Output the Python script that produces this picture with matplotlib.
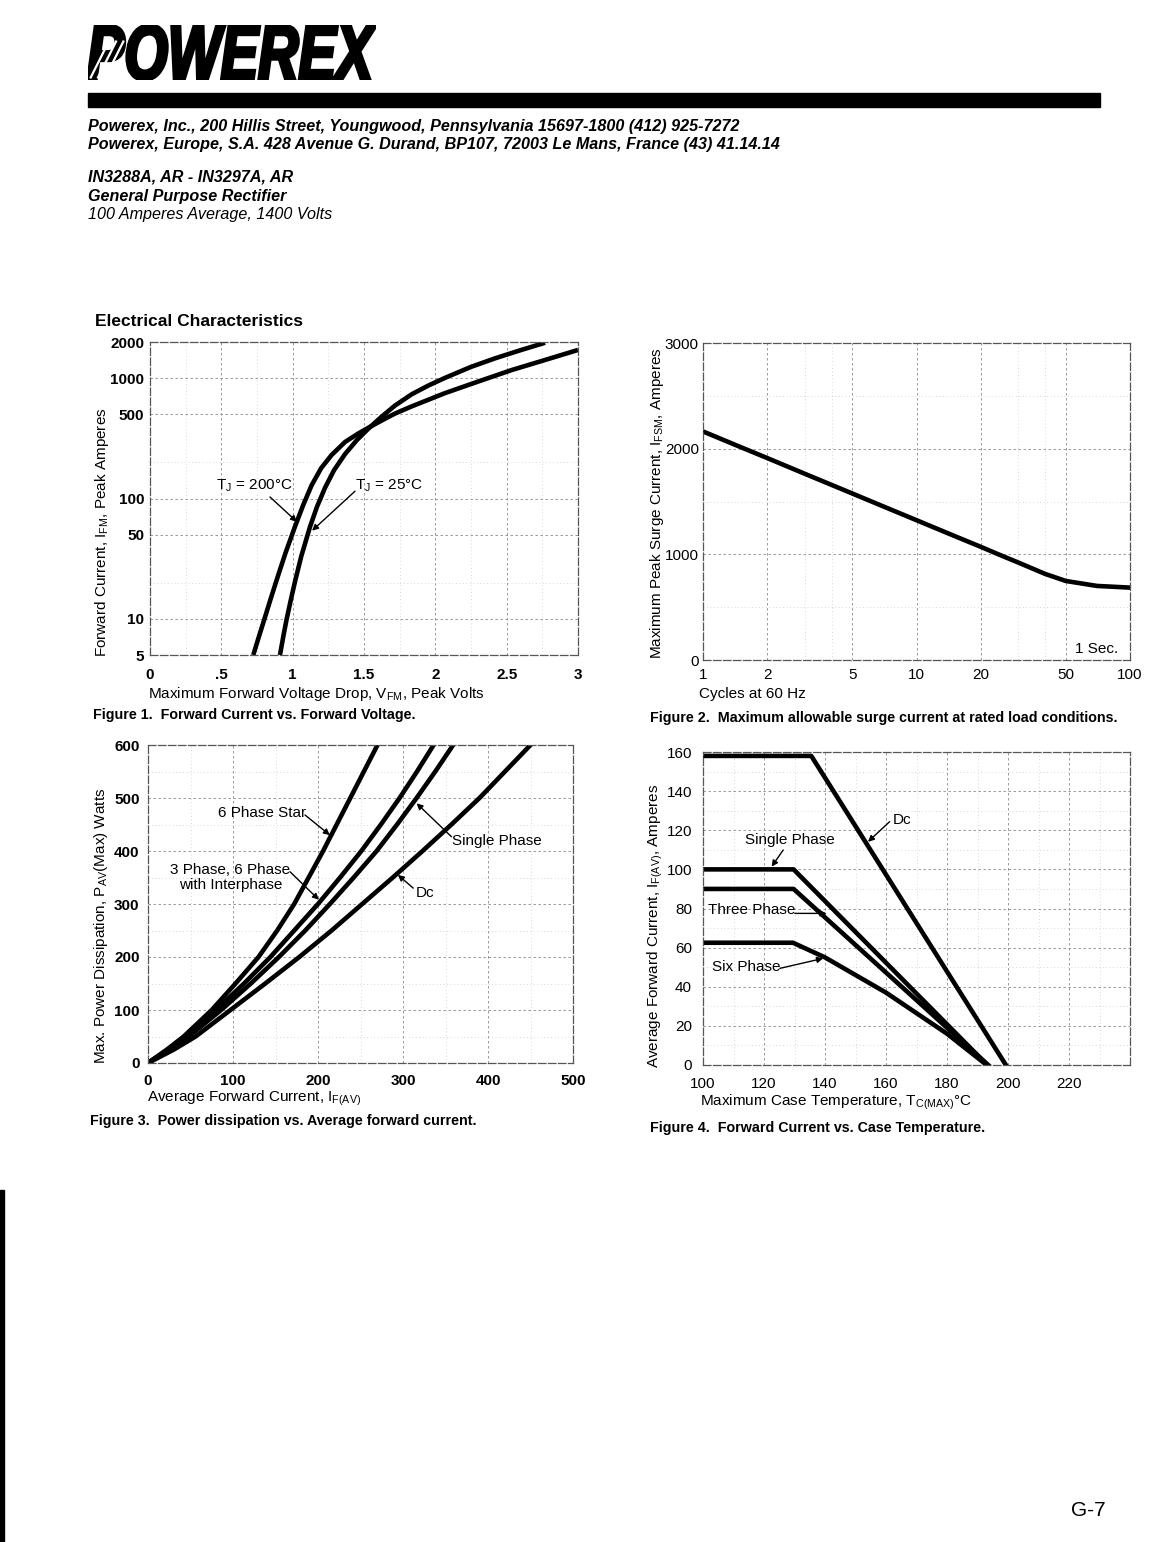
import numpy as np
import matplotlib.pyplot as plt
from matplotlib.patches import Rectangle, PathPatch
from matplotlib.textpath import TextPath
from matplotlib.font_manager import FontProperties
from matplotlib.ticker import FixedLocator, MultipleLocator, FixedFormatter

plt.rcParams['font.family'] = ['Liberation Sans', 'DejaVu Sans']
plt.rcParams['mathtext.fontset'] = 'custom'
plt.rcParams['mathtext.rm'] = 'Liberation Sans'
plt.rcParams['mathtext.it'] = 'Liberation Sans:italic'
plt.rcParams['mathtext.bf'] = 'Liberation Sans:bold'

# Figure 1: forward current vs forward voltage
v_200 = [0.724, 0.76, 0.806, 0.85, 0.90, 0.95, 1.016, 1.075, 1.133, 1.20, 1.273, 1.367,
         1.46, 1.53, 1.624, 1.717, 1.834, 1.951, 2.068, 2.30, 2.535, 2.77, 3.0]
i_200 = [5.0, 6.9, 10.3, 15.2, 23.3, 35.3, 58.3, 88.9, 129, 179, 230, 295,
         347, 387, 445, 508, 583, 662, 752, 938, 1169, 1419, 1718]
v_25 = [0.911, 0.935, 0.956, 0.985, 1.016, 1.06, 1.121, 1.17, 1.227, 1.29, 1.367, 1.45,
        1.53, 1.62, 1.717, 1.834, 1.951, 2.068, 2.25, 2.418, 2.60, 2.769]
i_25 = [5.0, 7.2, 9.7, 14.0, 20.3, 33.0, 57.9, 85.1, 123, 172, 234, 306,
        380, 475, 592, 735, 869, 1007, 1242, 1462, 1714, 1972]
f1_yticks = [5, 10, 50, 100, 500, 1000, 2000]
f1_xticks = [0, 0.5, 1, 1.5, 2, 2.5, 3]
f1_xlabels = ['0', '.5', '1', '1.5', '2', '2.5', '3']

# Figure 2: surge current vs cycles
cycles = [1, 1.5, 2, 3, 5, 7, 10, 15, 20, 25, 30, 40, 50, 70, 100]
surge = [2163, 2015, 1911, 1762, 1576, 1453, 1323, 1175, 1071, 988, 922, 815, 748, 701, 685]
f2_xticks = [1, 2, 5, 10, 20, 50, 100]
f2_yticks = [0, 1000, 2000, 3000]

# Figure 3: power dissipation vs average current
p_levels = [0, 25, 50, 100, 150, 200, 250, 300, 350, 400, 450, 500, 550, 600]
i_six_star = [0, 22, 42, 75, 103, 130, 152, 172, 189, 206, 222, 238, 254, 270]
i_three = [0, 23, 45, 80, 113, 144, 172, 200, 226, 251, 274, 296, 316.5, 336]
i_single = [0, 24, 48, 86, 121, 154, 185, 214, 242, 269, 293, 316, 338, 359]
i_dc = [0, 30, 56, 97, 138, 178, 216, 252, 288, 323, 357, 390, 420, 450]

# Figure 4: forward current vs case temperature
t_dc = [100, 135.5, 199.3]
a_dc = [158, 158, 0]
t_single = [100, 129.7, 193.2]
a_single = [100, 100, 0]
t_three = [100, 129.7, 193.5]
a_three = [90, 90, 0]
t_six = [100, 129.5, 140, 160, 180, 193]
a_six = [62.5, 62.5, 55, 37, 16, 0]

W, H = 1152, 1542
fig = plt.figure(figsize=(W / 100, H / 100), dpi=100)


def fx(x):
    return x / W


def fy(y):
    return 1 - y / H


def box(l, t, r, b):
    return [l / W, 1 - b / H, (r - l) / W, (b - t) / H]


def style(ax, bold):
    for s in ax.spines.values():
        s.set_color('#555555')
        s.set_linewidth(0.9)
        s.set_linestyle((0, (6, 2)))
    ax.tick_params(which='both', length=0, labelsize=11)
    for lab in ax.get_xticklabels() + ax.get_yticklabels():
        lab.set_fontweight('bold' if bold else 'normal')
    ax.grid(True, which='major', color='#8a8a8a', lw=0.6, ls=(0, (3, 3)))
    ax.grid(True, which='minor', color='#b5b5b5', lw=0.5, ls=(0, (1, 4)))


def arrow(ax, tail, tip):
    ax.annotate('', xy=tip, xytext=tail,
                arrowprops=dict(arrowstyle='-|>', color='k', lw=1.0,
                                mutation_scale=9, shrinkA=0, shrinkB=0))


LW = 3.3

# ---- header ----
logo = TextPath((0, 0), 'POWEREX', size=100,
                prop=FontProperties(family='Liberation Sans', weight='bold', style='italic'))
ext = logo.get_extents()
axl = fig.add_axes(box(88, 25, 376, 80))
axl.axis('off')
axl.add_patch(PathPatch(logo, fc='black', ec='black', lw=2.5))
axl.set_xlim(ext.x0, ext.x1)
axl.set_ylim(ext.y0, ext.y1)
for k in range(3):
    x0 = ext.x0 + 4 + k * 13
    axl.plot([x0, x0 + 34], [ext.y0 + 2, ext.y1 - 20], color='white', lw=1.6,
             solid_capstyle='butt')

fig.patches.append(Rectangle((fx(88), fy(107)), fx(1100) - fx(88), (107 - 93) / H,
                             transform=fig.transFigure, color='black'))
hdr = dict(fontsize=11.6, fontweight='bold', fontstyle='italic', va='center', ha='left')
fig.text(fx(88), fy(127), 'Powerex, Inc., 200 Hillis Street, Youngwood, Pennsylvania 15697-1800 (412) 925-7272', **hdr)
fig.text(fx(88), fy(145), 'Powerex, Europe, S.A. 428 Avenue G. Durand, BP107, 72003 Le Mans, France (43) 41.14.14', **hdr)
fig.text(fx(88), fy(177), 'IN3288A, AR - IN3297A, AR', **hdr)
fig.text(fx(88), fy(196), 'General Purpose Rectifier', **hdr)
fig.text(fx(88), fy(214), '100 Amperes Average, 1400 Volts', fontsize=11.6, fontstyle='italic',
         va='center', ha='left')
fig.text(fx(95), fy(322), 'Electrical Characteristics', fontsize=12.5, fontweight='bold',
         va='center', ha='left')

cap = dict(fontsize=10.3, fontweight='bold', va='center', ha='left')

# ---- Figure 1 ----
ax1 = fig.add_axes(box(150, 342, 578, 655))
ax1.plot(v_200, i_200, color='k', lw=LW, solid_capstyle='butt')
ax1.plot(v_25, i_25, color='k', lw=LW, solid_capstyle='butt')
ax1.set_yscale('log')
ax1.set_xlim(0, 3)
ax1.set_ylim(5, 2000)
ax1.yaxis.set_major_locator(FixedLocator(f1_yticks))
ax1.yaxis.set_major_formatter(FixedFormatter([str(t) for t in f1_yticks]))
ax1.yaxis.set_minor_locator(FixedLocator([20, 200]))
ax1.xaxis.set_major_locator(FixedLocator(f1_xticks))
ax1.xaxis.set_major_formatter(FixedFormatter(f1_xlabels))
ax1.xaxis.set_minor_locator(MultipleLocator(0.25))
style(ax1, True)
ax1.tick_params(axis='x', pad=9)
ax1.tick_params(axis='y', pad=4)
ax1.text(0.729, 127, r'T$_\mathregular{J}$ = 200°C', fontsize=11, ha='center', va='center')
ax1.text(1.675, 127, r'T$_\mathregular{J}$ = 25°C', fontsize=11, ha='center', va='center')
arrow(ax1, (0.841, 103), (1.03, 64))
arrow(ax1, (1.437, 115), (1.136, 54))
fig.text(fx(148), fy(694), r'Maximum Forward Voltage Drop, V$_\mathregular{FM}$, Peak Volts',
         fontsize=11, va='center', ha='left')
fig.text(fx(102), fy(532), r'Forward Current, I$_\mathregular{FM}$, Peak Amperes',
         fontsize=11, rotation=90, va='center', ha='center')
fig.text(fx(93), fy(715), 'Figure 1.  Forward Current vs. Forward Voltage.', **cap)

# ---- Figure 2 ----
ax2 = fig.add_axes(box(703, 343, 1130, 660))
ax2.plot(cycles, surge, color='k', lw=LW)
ax2.set_xscale('log')
ax2.set_xlim(1, 100)
ax2.set_ylim(0, 3000)
ax2.xaxis.set_major_locator(FixedLocator(f2_xticks))
ax2.xaxis.set_major_formatter(FixedFormatter([str(t) for t in f2_xticks]))
ax2.xaxis.set_minor_locator(FixedLocator([3, 4, 30, 40]))
ax2.yaxis.set_major_locator(FixedLocator(f2_yticks))
ax2.yaxis.set_minor_locator(MultipleLocator(500))
style(ax2, False)
ax2.tick_params(axis='x', pad=6)
ax2.tick_params(axis='y', pad=3)
ax2.text(70, 100, '1 Sec.', fontsize=11, ha='center', va='center')
fig.text(fx(699), fy(694), 'Cycles at 60 Hz', fontsize=11, va='center', ha='left')
fig.text(fx(657), fy(503), r'Maximum Peak Surge Current, I$_\mathregular{FSM}$, Amperes',
         fontsize=11, rotation=90, va='center', ha='center')
fig.text(fx(650), fy(718), 'Figure 2.  Maximum allowable surge current at rated load conditions.', **cap)

# ---- Figure 3 ----
ax3 = fig.add_axes(box(148, 745, 573, 1063))
for cur in (i_six_star, i_three, i_single, i_dc):
    ax3.plot(cur, p_levels, color='k', lw=LW)
ax3.set_xlim(0, 500)
ax3.set_ylim(0, 600)
ax3.xaxis.set_major_locator(MultipleLocator(100))
ax3.xaxis.set_minor_locator(MultipleLocator(50))
ax3.yaxis.set_major_locator(MultipleLocator(100))
ax3.yaxis.set_minor_locator(MultipleLocator(50))
style(ax3, True)
ax3.tick_params(axis='x', pad=8)
ax3.tick_params(axis='y', pad=6)
ax3.text(134.7, 472, '6 Phase Star', fontsize=11, ha='center', va='center')
arrow(ax3, (184.7, 468), (214, 430))
ax3.text(97, 350, '3 Phase, 6 Phase\nwith Interphase', fontsize=11, ha='center', va='center',
         linespacing=1.0)
arrow(ax3, (167, 361), (201, 308))
ax3.text(411, 418, 'Single Phase', fontsize=11, ha='center', va='center')
arrow(ax3, (357, 427), (316, 490))
ax3.text(326, 320, 'Dc', fontsize=11, ha='center', va='center')
arrow(ax3, (312, 330), (294, 355))
fig.text(fx(147), fy(1098), r'Average Forward Current, I$_\mathregular{F(AV)}$',
         fontsize=11, va='center', ha='left')
fig.text(fx(101), fy(926), r'Max. Power Dissipation, P$_\mathregular{AV}$(Max) Watts',
         fontsize=11, rotation=90, va='center', ha='center')
fig.text(fx(90), fy(1121), 'Figure 3.  Power dissipation vs. Average forward current.', **cap)

# ---- Figure 4 ----
ax4 = fig.add_axes(box(703, 752, 1130, 1065))
for t, a in ((t_dc, a_dc), (t_single, a_single), (t_three, a_three), (t_six, a_six)):
    ax4.plot(t, a, color='k', lw=LW)
ax4.set_xlim(100, 240)
ax4.set_ylim(0, 160)
ax4.xaxis.set_major_locator(FixedLocator(list(range(100, 221, 20))))
ax4.xaxis.set_minor_locator(MultipleLocator(10))
ax4.yaxis.set_major_locator(MultipleLocator(20))
ax4.yaxis.set_minor_locator(MultipleLocator(10))
style(ax4, False)
ax4.tick_params(axis='x', pad=9)
ax4.tick_params(axis='y', pad=8)
ax4.text(162.3, 125, 'Dc', fontsize=11, ha='left', va='center')
arrow(ax4, (161.2, 124.4), (154.1, 114.1))
ax4.text(128.6, 115, 'Single Phase', fontsize=11, ha='center', va='center')
arrow(ax4, (126.3, 109.9), (122.5, 101.4))
ax4.text(116, 79, 'Three Phase', fontsize=11, ha='center', va='center')
arrow(ax4, (130.1, 77.5), (140.5, 77.5))
ax4.text(114.2, 50.3, 'Six Phase', fontsize=11, ha='center', va='center')
arrow(ax4, (125.2, 49.4), (139.4, 54.5))
fig.text(fx(700), fy(1102), r'Maximum Case Temperature, T$_\mathregular{C(MAX)}$°C',
         fontsize=11, va='center', ha='left')
fig.text(fx(655), fy(926), r'Average Forward Current, I$_\mathregular{F(AV)}$, Amperes',
         fontsize=11, rotation=90, va='center', ha='center')
fig.text(fx(650), fy(1128), 'Figure 4.  Forward Current vs. Case Temperature.', **cap)

# page number and scan edge
fig.text(fx(1088), fy(1511), 'G-7', fontsize=15, va='center', ha='center')
fig.patches.append(Rectangle((0, 0), fx(4), 1 - 1190 / H, transform=fig.transFigure, color='black'))

fig.savefig('out.png', dpi=100)
